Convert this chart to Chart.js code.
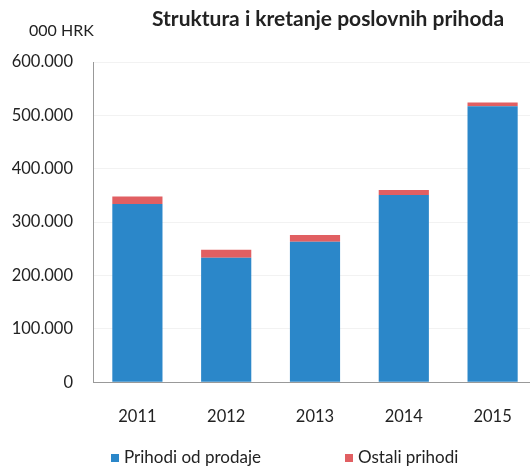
<!DOCTYPE html>
<html>
<head>
<meta charset="utf-8">
<script src="https://cdn.jsdelivr.net/npm/chart.js@4/dist/chart.umd.min.js"></script>
<style>
  body { margin: 0; background: #fff; overflow: hidden; }
  #wrap { position: relative; width: 530px; height: 468px; overflow: hidden; }
  #chart { position: absolute; left: 0; top: 0; }
  #unit { position: absolute; left: 29px; top: 20px; font: 16px Lato, sans-serif; color: #222; }
  #title { position: absolute; left: 152px; width: 352px; top: 5px; text-align: center; font: bold 21px Lato, sans-serif; color: #222; white-space: nowrap; }
  #legend { position: absolute; top: 446px; left: 0; width: 530px; font: 17px Lato, sans-serif; color: #222; }
  #legend span.item { position: absolute; white-space: nowrap; }
  #legend span.box { display: inline-block; width: 8px; height: 8px; margin-right: 5px; vertical-align: 1px; }
</style>
</head>
<body>
<div id="wrap">
  <canvas id="chart" width="537" height="468"></canvas>
  <div id="title">Struktura i kretanje poslovnih prihoda</div>
  <div id="unit">000 HRK</div>
  <div id="legend"></div>
</div>
<script>
var years = ["2011", "2012", "2013", "2014", "2015"];
var prodaja = [334000, 233000, 263000, 351000, 517000];
var ostali = [14000, 15000, 13000, 9000, 7000];
var seriesNames = ["Prihodi od prodaje", "Ostali prihodi"];
var seriesColors = ["#2b87c9", "#e15f62"];

function formatThousands(v) {
  return String(v).replace(/\B(?=(\d{3})+(?!\d))/g, ".");
}

var ctx = document.getElementById("chart").getContext("2d");
var chart = new Chart(ctx, {
  type: "bar",
  data: {
    labels: years,
    datasets: [
      { label: seriesNames[0], data: prodaja, backgroundColor: seriesColors[0] },
      { label: seriesNames[1], data: ostali, backgroundColor: seriesColors[1] }
    ]
  },
  options: {
    responsive: false,
    animation: false,
    layout: { padding: { left: 10, right: 0, top: 62, bottom: 16 } },
    datasets: { bar: { barPercentage: 0.565, categoryPercentage: 1 } },
    plugins: {
      legend: { display: false },
      tooltip: { enabled: false }
    },
    scales: {
      x: {
        stacked: true,
        grid: { display: false, drawTicks: false },
        border: { color: "#999" },
        ticks: { color: "#222", font: { family: "Lato", size: 16.5 }, padding: 25 }
      },
      y: {
        stacked: true,
        min: 0,
        max: 600000,
        afterFit: function (scale) { scale.width = 83; },
        grid: { color: "#f2f2f2", drawTicks: false },
        border: { color: "#999" },
        ticks: {
          stepSize: 100000,
          color: "#222",
          padding: 20,
          font: { family: "Lato", size: 16.5 },
          callback: function (v) { return formatThousands(v); }
        }
      }
    }
  }
});

// legend built from the dataset names and colours
var legendLeft = [111, 345];
var legend = document.getElementById("legend");
chart.data.datasets.forEach(function (ds, i) {
  var item = document.createElement("span");
  item.className = "item";
  item.style.left = legendLeft[i] + "px";
  item.innerHTML = '<span class="box" style="background:' + ds.backgroundColor + '"></span>' + ds.label;
  legend.appendChild(item);
});
</script>
</body>
</html>
